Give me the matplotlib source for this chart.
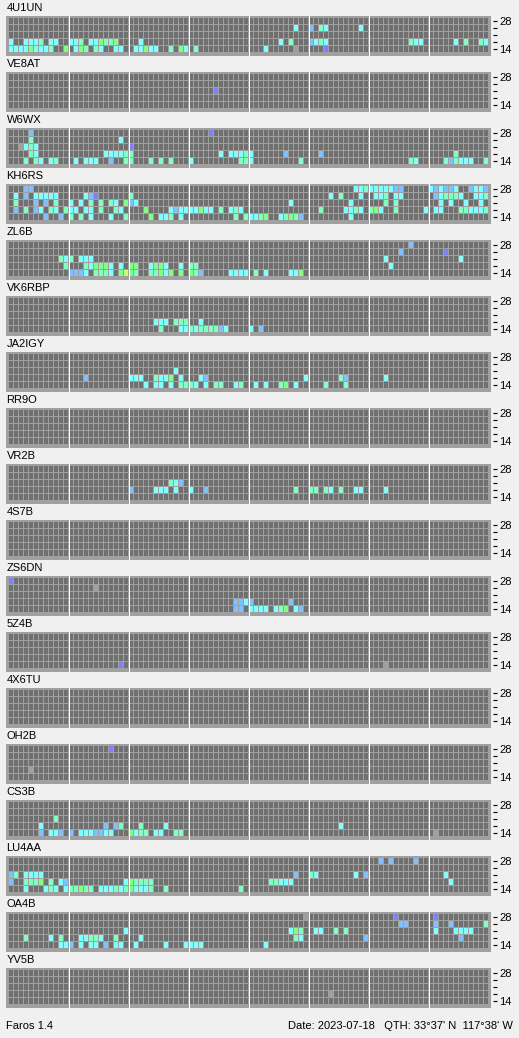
import matplotlib.pyplot as plt

plt.rcParams['font.family'] = ['Liberation Sans', 'DejaVu Sans']

W, H = 519, 1038
SLOTS = 96          # 8 blocks of 3 hours, 12 slots each
BANDS = ['28', '24', '21', '18', '14']
TICK_LABELS = ['28', '', '', '', '14']

# slot colours: . no signal, c/a/g/y/b/v signal levels, x unreadable
PALETTE = {
    '.': '#707070',
    'c': '#80ffff',
    'a': '#80ffc0',
    'g': '#80ff80',
    'y': '#c0ff80',
    'b': '#80c0ff',
    'v': '#8080ff',
    'x': '#a0a0a0',
}

# each station: one dict per band (28 at top ... 14 at bottom), {block: slots}
st_4U1UN = [
    {},
    {4: '.........c', 5: 'b.ac......c'},
    {},
    {0: 'c..ccca.cc', 1: 'cca.ccgaag', 2: '..c', 4: '......c.a', 5: 'bcac',
     6: '........acc', 7: '.....c.a..ac'},
    {0: 'ccccgccca..g', 1: '.cga.ac..cc', 2: '.ccgcc..a.gc', 3: '.a',
     4: '...c.....x', 5: '...v'},
]
st_VE8AT = [{}, {}, {3: '.....v'}, {}, {}]
st_W6WX = [
    {0: '....b', 3: '....v'},
    {0: '....a', 1: '..........c'},
    {0: '..xcac', 2: 'v'},
    {0: '....ac', 1: '.......cccca', 2: 'a', 3: '......c.ccca', 4: 'c......b',
     5: '..b', 7: '.....a'},
    {0: '...a.ac.ca', 1: '.c.ccc..b..a', 2: 'a...a.a.a', 3: 'c.........aa',
     4: 'c.........a', 6: '........ac', 7: '...abaccc..a'},
]
st_KH6RS = [
    {0: '...bb', 5: '.........cca', 6: 'cccccbb', 7: 'cbcbbc..bccb'},
    {0: '.c.b.ccccc', 1: '...cbv', 2: 'a', 5: '....c.a...c', 6: '.cca.cc',
     7: '.bcaaac..cca'},
    {0: '.a...b.b.a', 1: 'c.c.a.a.ac.g', 2: 'bc', 4: '........c', 5: '........c',
     6: '...a.a', 7: '..c.c..c..c'},
    {0: '.b.a.bc.ac.a', 1: 'cc.cc.a..ac', 2: '...g....cbcc', 3: 'ccgcc.a.cac',
     5: '..a....ccac', 6: 'agc..a.....c', 7: '.cc...aaccca'},
    {0: '.......b..b', 1: 'a.a.c...c..a', 2: '....g.cca.c', 3: '.........a.a',
     4: 'ccag..cagab', 5: '........c'},
]
st_ZL6B = [
    {6: '........b'},
    {6: '......b', 7: '...v'},
    {0: '..........ac', 1: 'a.ccc', 6: '...c', 7: '......c'},
    {0: '...........a', 1: '...acgggc.c', 2: 'gg..cggc..c', 3: 'aa', 6: '....c'},
    {1: 'bbbc.aaac.gy', 2: 'ga..aagcg.g', 3: 'gab.....cccc', 4: '.a.c....ccg'},
]
st_VK6RBP = [
    {}, {}, {},
    {2: '.....ccc.aaa', 3: '..c'},
    {2: '......a...cc', 3: 'acaaaabc', 4: 'c.b'},
]
st_JA2IGY = [
    {}, {},
    {2: '.........c'},
    {1: '...b', 2: 'ccc..accg.c', 3: '..cb', 4: '...........c', 5: '......ab',
     6: '...c'},
    {2: '...c.cc.c.aa', 3: 'ac.c.aa..ca', 4: '.c.c..ag.c', 5: '...a...a'},
]
st_RR9O = [{}, {}, {}, {}, {}]
st_VR2B = [
    {}, {},
    {2: '........acb'},
    {2: 'b....ccc.c', 3: 'c..b', 4: '.........a', 5: 'aa.ac.a..cc', 6: '...c'},
    {},
]
st_4S7B = [{}, {}, {}, {}, {}]
st_ZS6DN = [
    {0: 'v'},
    {1: '.....x'},
    {},
    {3: '.........bbc', 4: 'b.......b'},
    {3: '.........bb', 4: 'cccc.cag.cb'},
]
st_5Z4B = [{}, {}, {}, {}, {1: '..........v', 6: '...x'}]
st_4X6TU = [{}, {}, {}, {}, {}]
st_OH2B = [{1: '........v'}, {}, {}, {0: '....x'}, {}]
st_CS3B = [
    {}, {},
    {0: '.........a'},
    {0: '......c', 1: '.......b.ba', 2: '..a....c', 5: '......c'},
    {0: '......b.ccb', 1: 'b.cccbbcc', 2: 'gcaa.cc..aa', 7: '.x'},
]
st_LU4AA = [
    {6: '..b.b....b'},
    {},
    {0: 'ba.cccc', 4: '.........b', 5: 'ac.......c.b', 7: '...c'},
    {0: 'b..aaag.a.cb', 1: '...........c', 2: 'gaaaa', 4: '....aaccc', 7: '....c'},
    {0: '...c...cac.c', 1: 'aagaa.cccaca', 2: 'gccca..a', 3: '..........a'},
]
st_OA4B = [
    {4: '...........x', 6: '.....v', 7: '.v'},
    {6: '......bb', 7: '.b..b......a'},
    {1: '...........c', 4: '........cga', 5: '.cc..a.a', 7: '.c...cccc'},
    {0: '...a....c.a', 1: '..ccaac..a', 2: '..c', 4: '.........ac',
     5: '...........b', 7: '......b'},
    {0: '..........cc', 1: 'b.c.cc.b.cc', 2: '.c.....c...c', 3: 'ccc', 4: '...c'},
]
st_YV5B = [{}, {}, {}, {5: '....x'}, {}]

STATIONS = [
    ('4U1UN', st_4U1UN), ('VE8AT', st_VE8AT), ('W6WX', st_W6WX),
    ('KH6RS', st_KH6RS), ('ZL6B', st_ZL6B), ('VK6RBP', st_VK6RBP),
    ('JA2IGY', st_JA2IGY), ('RR9O', st_RR9O), ('VR2B', st_VR2B),
    ('4S7B', st_4S7B), ('ZS6DN', st_ZS6DN), ('5Z4B', st_5Z4B),
    ('4X6TU', st_4X6TU), ('OH2B', st_OH2B), ('CS3B', st_CS3B),
    ('LU4AA', st_LU4AA), ('OA4B', st_OA4B), ('YV5B', st_YV5B),
]


def expand(band):
    return ''.join(band.get(k, '').ljust(12, '.') for k in range(8))


fig = plt.figure(figsize=(W / 100, H / 100), dpi=100, facecolor='#f0f0f0')

for i, (name, rows) in enumerate(STATIONS):
    top = 16 + 56 * i
    ax = fig.add_axes([6 / W, 1 - (top + 40) / H, 485 / W, 40 / H])
    ax.set_facecolor('#a0a0a0')
    for r, band in enumerate(rows):
        line = expand(band)
        ax.bar(range(SLOTS), 6 / 7, width=0.8, bottom=r, align='edge',
               color=[PALETTE[ch] for ch in line], linewidth=0)
    for k in range(1, 8):
        ax.axvline(12 * k - 0.1, color='white', lw=0.72)
    ax.set_xlim(-0.6, 96.4)
    ax.set_ylim(5 + 3 / 7, -2 / 7)
    ax.set_xticks([])
    ax.yaxis.tick_right()
    ax.set_yticks([r + 3 / 7 for r in range(len(BANDS))])
    ax.set_yticklabels(TICK_LABELS)
    ax.tick_params(axis='y', length=3, width=0.8, pad=1.5, labelsize=8,
                   colors='black')
    for side in ['top', 'left', 'bottom']:
        ax.spines[side].set_visible(False)
    ax.spines['right'].set_color('none')
    ax.spines['right'].set_position(('outward', 1.5))
    fig.text(6.5 / W, 1 - (8 + 56 * i) / H, name, fontsize=8, va='center')

fig.text(6.5 / W, 1 - 1026 / H, 'Faros 1.4', fontsize=8, va='center')
fig.text(513 / W, 1 - 1026 / H, "Date: 2023-07-18   QTH: 33\u00b037' N  117\u00b038' W",
         fontsize=8, va='center', ha='right')

fig.savefig('out.png', dpi=100, facecolor=fig.get_facecolor())
